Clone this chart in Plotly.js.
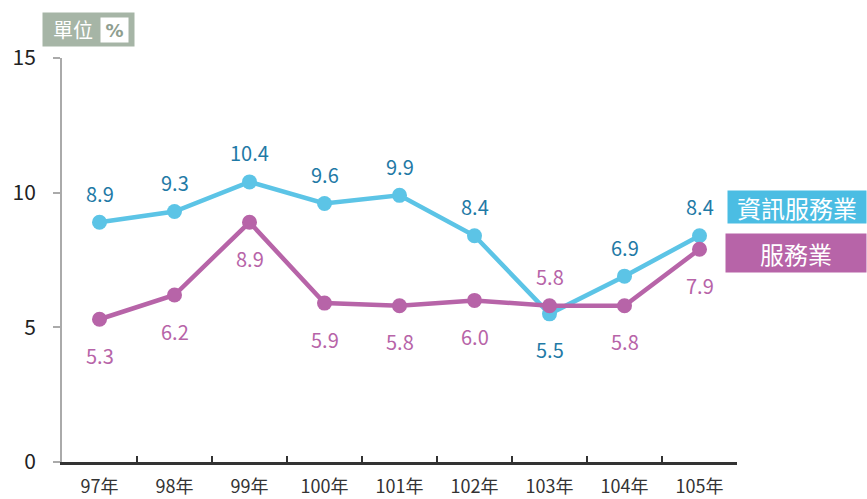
<!DOCTYPE html>
<html>
<head>
<meta charset="utf-8">
<script src="https://cdn.plot.ly/plotly-3.0.1.min.js"></script>
<style>html,body{margin:0;padding:0;background:#fff;}</style>
</head>
<body>
<div id="chart" style="width:867px;height:499px;"></div>
<script>
const years = ["97年","98年","99年","100年","101年","102年","103年","104年","105年"];
const infoService = [8.9, 9.3, 10.4, 9.6, 9.9, 8.4, 5.5, 6.9, 8.4];
const service = [5.3, 6.2, 8.9, 5.9, 5.8, 6.0, 5.8, 5.8, 7.9];
const infoLabelAbove = [true, true, true, true, true, true, false, true, true];
const serviceLabelAbove = [false, false, false, false, false, false, true, false, false];
const seriesNames = ["資訊服務業","服務業"];

const FONT = '"Noto Sans CJK TC", "Noto Sans", sans-serif';
const BLUE = '#5cc4e6';
const BLUE_TXT = '#1f7aa6';
const PURPLE = '#b764a8';

const traces = [
  {
    x: years, y: infoService, name: seriesNames[0], type: 'scatter', mode: 'lines+markers',
    line: {color: BLUE, width: 4.5},
    marker: {color: BLUE, size: 15},
    cliponaxis: false, hoverinfo: 'skip'
  },
  {
    x: years, y: service, name: seriesNames[1], type: 'scatter', mode: 'lines+markers',
    line: {color: PURPLE, width: 4.5},
    marker: {color: PURPLE, size: 15},
    cliponaxis: false, hoverinfo: 'skip'
  }
];

function labels(vals, above, color) {
  return vals.map((v, i) => ({
    x: years[i], y: v, xref: 'x', yref: 'y', showarrow: false,
    text: v.toFixed(1), yanchor: 'middle', xanchor: 'center',
    yshift: above[i] ? 29 : -36,
    font: {family: FONT, size: 20, color: color}
  }));
}

const L = 62, R = 737.5, T = 58, B = 462;
const px = p => (p - L) / (R - L);
const py = p => (B - p) / (B - T);

const layout = {
  width: 867, height: 499,
  margin: {l: L, r: 867 - R, t: T, b: 499 - B, pad: 0},
  paper_bgcolor: '#fff', plot_bgcolor: '#fff',
  showlegend: false,
  font: {family: FONT, color: '#333'},
  xaxis: {
    type: 'category', range: [-0.5, 8.5], tickson: 'boundaries',
    ticks: 'inside', ticklen: 6, tickwidth: 2, tickcolor: '#333',
    showline: true, linecolor: '#333', linewidth: 3,
    showgrid: false, zeroline: false, ticklabelstandoff: 6,
    tickfont: {family: FONT, size: 18, color: '#333'}
  },
  yaxis: {
    range: [0, 15], tickvals: [0, 5, 10, 15],
    ticks: 'outside', ticklen: 7, tickwidth: 2, tickcolor: '#aaa',
    showline: true, linecolor: '#aaa', linewidth: 2,
    showgrid: false, zeroline: false,
    tickfont: {family: FONT, size: 21, color: '#222'}, ticklabelstandoff: 13
  },
  annotations: [
    ...labels(infoService, infoLabelAbove, BLUE_TXT),
    ...labels(service, serviceLabelAbove, PURPLE),
    {xref: 'paper', yref: 'paper', x: px(727), y: py(207), xanchor: 'left', yanchor: 'middle',
     text: seriesNames[0], showarrow: false, bgcolor: '#4bbde3', width: 136, height: 30, align: 'center',
     font: {family: FONT, size: 24, color: '#fff'}, borderpad: 1},
    {xref: 'paper', yref: 'paper', x: px(725), y: py(253), xanchor: 'left', yanchor: 'middle',
     text: seriesNames[1], showarrow: false, bgcolor: PURPLE, width: 138, height: 36, align: 'center',
     font: {family: FONT, size: 24, color: '#fff'}, borderpad: 1},
    {xref: 'paper', yref: 'paper', x: px(42), y: py(30), xanchor: 'left', yanchor: 'middle',
     text: '&nbsp;&nbsp;單位', showarrow: false, bgcolor: '#a6b5a6', width: 89, height: 31, align: 'left',
     font: {family: FONT, size: 20, color: '#fff'}, borderpad: 1},
    {xref: 'paper', yref: 'paper', x: px(115), y: py(30), xanchor: 'center', yanchor: 'middle',
     text: '<b>%</b>', showarrow: false, bgcolor: '#fff', width: 27, height: 24, align: 'center',
     font: {family: 'DejaVu Sans, sans-serif', size: 18, color: '#8f9e8f'}, borderpad: 0}
  ]
};

Plotly.newPlot('chart', traces, layout, {staticPlot: true, displayModeBar: false});
</script>
</body>
</html>
